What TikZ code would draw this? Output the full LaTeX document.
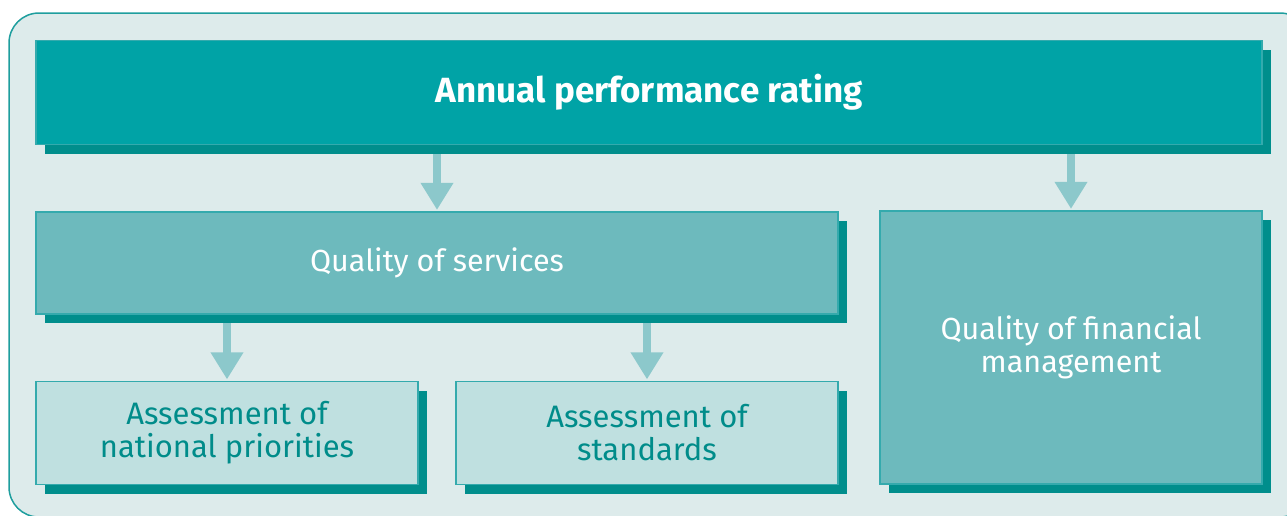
\documentclass[tikz,border=0pt]{standalone}
\usepackage{fontspec}
\setmainfont{Fira Sans}
\usetikzlibrary{arrows.meta,shadows}
\pgfdeclarelayer{framelayer}
\pgfdeclarelayer{arrowlayer}
\pgfsetlayers{framelayer,arrowlayer,main}
\definecolor{bgc}{HTML}{DDEBEB}
\definecolor{framec}{HTML}{1E9E9E}
\definecolor{topfill}{HTML}{00A3A6}
\definecolor{shadowc}{HTML}{008E8C}
\definecolor{midfill}{HTML}{6DBABD}
\definecolor{lightfill}{HTML}{BFE0E0}
\definecolor{edgec}{HTML}{34AAAD}
\definecolor{arrowc}{HTML}{8CC8CB}
\definecolor{textdark}{HTML}{008C8A}
\begin{document}
\begin{tikzpicture}[x=1pt,y=-1pt,
  boxbase/.style={draw=edgec, line width=1.2pt, inner sep=0pt, align=center,
    drop shadow={shadow xshift=9pt, shadow yshift=-9pt, fill=shadowc, opacity=1}},
  topbox/.style={boxbase, fill=topfill, text=white, font=\fontsize{35}{40}\selectfont\bfseries},
  midbox/.style={boxbase, fill=midfill, text=white, font=\fontsize{30.5}{33}\selectfont},
  lowbox/.style={boxbase, fill=lightfill, text=textdark, font=\fontsize{31}{33}\selectfont},
  flow/.style={draw=arrowc, line width=8pt, shorten >=1.5pt, -{Triangle[width=31pt,length=27pt]}}
]
\useasboundingbox (0,0) rectangle (1287,515);
\begin{pgfonlayer}{framelayer}
\draw[fill=bgc, draw=framec, line width=1.5pt, rounded corners=30pt] (9,13) rectangle (1310,517);
\end{pgfonlayer}
% boxes
\node[topbox, minimum width=1226pt, minimum height=104pt] (top) at (649,92.5) {Annual performance rating};
\node[midbox, minimum width=802pt, minimum height=102pt] (qs) at (437,263) {Quality of services};
\node[midbox, minimum width=382pt, minimum height=273pt] (fin) at (1071,347.5) {Quality of financial\\management};
\node[lowbox, minimum width=382pt, minimum height=103pt] (np) at (227,433) {Assessment of\\national priorities};
\node[lowbox, minimum width=382pt, minimum height=103pt] (st) at (647,433) {Assessment of\\standards};
% connectors, behind the boxes
\begin{pgfonlayer}{arrowlayer}
\draw[flow] (top.south -| qs.north) -- (qs.north);
\draw[flow] (top.south -| fin.north) -- (fin.north);
\draw[flow] (qs.south -| np.north) -- (np.north);
\draw[flow] (qs.south -| st.north) -- (st.north);
\end{pgfonlayer}
\end{tikzpicture}
\end{document}
